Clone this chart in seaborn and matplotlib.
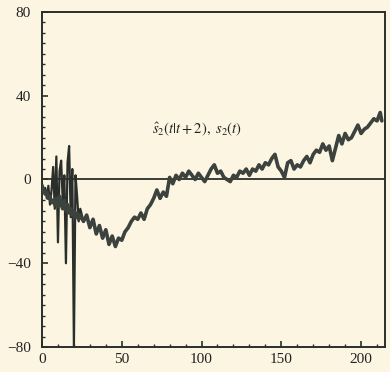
import numpy as np
import pandas as pd
import matplotlib
matplotlib.use("Agg")
import matplotlib.pyplot as plt
import seaborn as sns
from matplotlib.ticker import MultipleLocator

# ---- data ----
t_early = list(range(0, 25))
s2_hat_early = [-2, -6, -4, -9, -3, -12, -5, 6, -14, 11, -30, 4, 9, -10, 2,
                -40, 8, 16, -18, 5, -80, 2, -8, -20, -14]
s2_early = [-3, -5, -7, -6, -9, -8, -11, -10, -12, -9, -13, -8, -12, -14, -10,
            -15, -12, -16, -14, -17, -15, -18, -16, -19, -17]

t_late = list(range(26, 213, 2)) + [213]
s2_late = [-20, -17, -23, -19, -26, -22, -28, -24, -31, -27, -32, -28, -29, -25,
           -23, -20, -18, -19, -16, -19, -14, -12, -9, -5, -9, -6, -8, 1, -2, 2,
           0, 3, 1, 4, 2, 0, 3, 1, -1, 2, 5, 7, 3, 4, 1, 0, -1, 2, 1, 4, 3, 5,
           2, 5, 4, 7, 5, 8, 7, 10, 12, 6, 4, 1, 8, 9, 5, 7, 6, 9, 11, 8, 12,
           14, 13, 17, 14, 16, 9, 15, 21, 17, 22, 19, 20, 23, 26, 22, 24, 25,
           27, 29, 28, 32, 28]

x_ticks = [0, 50, 100, 150, 200]
y_ticks = [-80, -40, 0, 40, 80]
label_text = r"$\hat{s}_2(t|t+2),\ s_2(t)$"

t_all = t_early + t_late
df = pd.DataFrame({
    "t": t_all + t_all,
    "value": s2_hat_early + s2_late + s2_early + s2_late,
    "series": ["hat"] * len(t_all) + ["true"] * len(t_all),
})

# ---- style ----
sns.set_theme(style="ticks")
bg = "#fbf5e1"
ink = "#2a2f2b"
plt.rcParams["font.family"] = ["Liberation Serif", "DejaVu Serif"]
plt.rcParams["mathtext.fontset"] = "stix"

fig = plt.figure(figsize=(3.9, 3.72), dpi=100, facecolor=bg)
ax = fig.add_axes([42 / 390, 1 - 347 / 372, (385 - 42) / 390, (347 - 12) / 372])
ax.set_facecolor(bg)

ax.axhline(0, color=ink, lw=1.3, zorder=1)
sns.lineplot(data=df, x="t", y="value", hue="series",
             palette={"hat": ink, "true": "#3c423d"},
             size="series", sizes={"hat": 1.6, "true": 2.6},
             legend=False, ax=ax, zorder=3)

ax.set_xlim(0, 215)
ax.set_ylim(-80, 80)
ax.set_xticks(x_ticks)
ax.set_yticks(y_ticks)
ax.xaxis.set_minor_locator(MultipleLocator(10))
ax.yaxis.set_minor_locator(MultipleLocator(5))
ax.tick_params(which="both", direction="in", colors=ink, labelsize=11,
               labelcolor="#222222")
ax.tick_params(which="major", length=4, width=1.2)
ax.tick_params(which="minor", length=2.5, width=1.0)
ax.tick_params(axis="y", pad=8)
ax.tick_params(axis="x", pad=4)
ax.set_xlabel("")
ax.set_ylabel("")
for sp in ax.spines.values():
    sp.set_visible(True)
    sp.set_color(ink)
    sp.set_linewidth(1.4)

ax.text(97, 24, label_text, fontsize=10.5, ha="center", va="center",
        color="#222222")

fig.savefig("out.png", dpi=100, facecolor=bg)
